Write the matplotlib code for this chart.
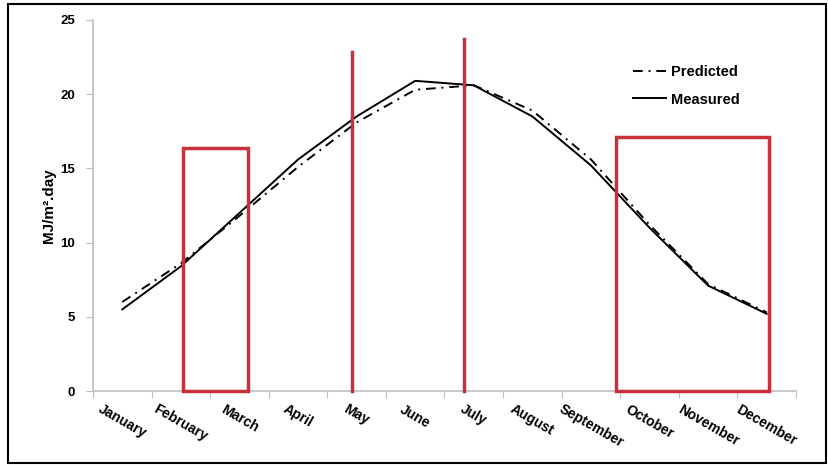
import numpy as np
import matplotlib
matplotlib.use("Agg")
import matplotlib.pyplot as plt
from matplotlib.patches import Rectangle

plt.rcParams['font.family'] = ['Liberation Sans', 'DejaVu Sans']

months = ['January', 'February', 'March', 'April', 'May', 'June', 'July',
          'August', 'September', 'October', 'November', 'December']
measured = [5.5, 8.4, 12.0, 15.6, 18.5, 20.9, 20.6, 18.5, 15.2, 11.0, 7.1, 5.2]
predicted = [6.0, 8.6, 11.8, 15.1, 18.1, 20.3, 20.6, 18.9, 15.6, 11.2, 7.2, 5.3]
yticks = [0, 5, 10, 15, 20, 25]

# highlighted month ranges (x0, x1, top) and single-month markers (x, top)
boxes = [(1.03, 2.14, 16.4), (8.43, 11.04, 17.1)]
markers = [(3.92, 22.85), (5.84, 23.7)]

red = '#c9303a'
axis_grey = '#bfbfbf'

fig = plt.figure(figsize=(8.29, 4.66), dpi=100)
ax = fig.add_axes([93 / 829, 1 - 391 / 466, 703 / 829, 371 / 466])

x = np.arange(len(months))
ax.plot(x, predicted, color='black', lw=1.4, dashes=(5, 3, 1, 3), label='Predicted')
ax.plot(x, measured, color='black', lw=1.4, label='Measured')

for x0, x1, top in boxes:
    ax.add_patch(Rectangle((x0, 0), x1 - x0, top, fill=False, edgecolor=red,
                           lw=2.5, clip_on=False, zorder=5))
for xm, top in markers:
    ax.plot([xm, xm], [0, top], color=red, lw=2.5, clip_on=False, zorder=5)

ax.set_xlim(-0.5, len(months) - 0.5)
ax.set_ylim(0, 25)

# tick marks on category boundaries, labels at category centres
ax.set_xticks(np.arange(len(months) + 1) - 0.5)
ax.set_xticklabels([])
ax.set_xticks(x, minor=True)
ax.set_xticklabels(months, minor=True, rotation=-30, ha='center', va='top',
                   fontsize=10, fontweight='bold')
ax.tick_params(axis='x', which='minor', length=0, pad=8)
ax.tick_params(axis='x', which='major', length=5, color=axis_grey)

ax.set_yticks(yticks)
ax.set_yticklabels([str(t) for t in yticks], fontsize=9.5, fontweight='bold')
ax.tick_params(axis='y', length=5, color=axis_grey, pad=8)

for side in ['top', 'right']:
    ax.spines[side].set_visible(False)
for side in ['left', 'bottom']:
    ax.spines[side].set_color(axis_grey)
    ax.spines[side].set_linewidth(1.2)

ax.set_ylabel('MJ/m\u00b2.day', fontsize=11, fontweight='bold')
ax.yaxis.set_label_coords(-0.052, 0.5)

ax.legend(loc='center', bbox_to_anchor=(686 / 829, 1 - 86 / 466),
          bbox_transform=fig.transFigure, frameon=False, handlelength=2.3,
          handletextpad=0.3, labelspacing=0.9,
          prop={'weight': 'bold', 'size': 10.5})

# outer frame around the figure
fig.patches.append(Rectangle((8 / 829, 3 / 466), 818 / 829, 459 / 466,
                             transform=fig.transFigure, fill=False,
                             edgecolor='black', lw=1.5))

fig.savefig('out.png', dpi=100)
